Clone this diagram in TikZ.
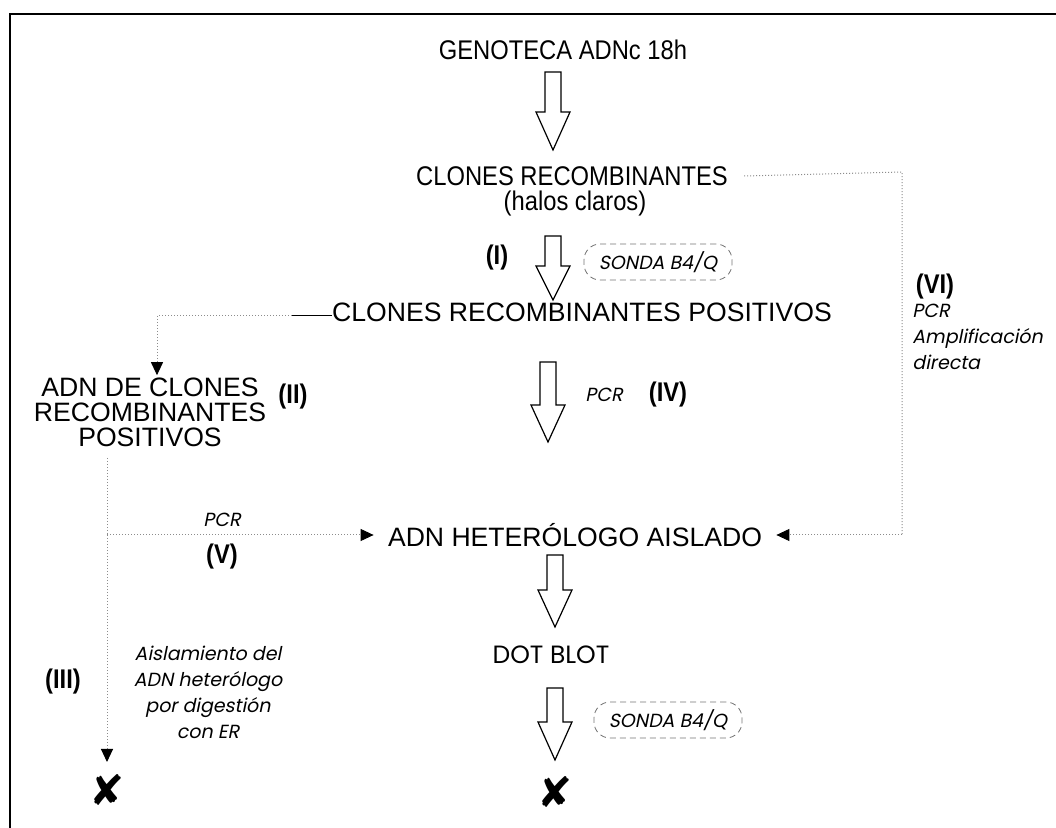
\documentclass[tikz,border=0pt]{standalone}
\usepackage{fontspec}
\setmainfont{Liberation Sans}
\newfontfamily\narrowf[FakeStretch=0.88]{Liberation Sans}
\newfontfamily\geof{Poppins}
\newfontfamily\geoit[FakeSlant=0.2]{Poppins}
\newfontfamily\symf{DejaVu Sans}
\usetikzlibrary{arrows.meta}
\tikzset{
  head/.style={font=\fontsize{13.3}{12.5}\selectfont, inner sep=0pt, align=center},
  nhead/.style={font=\narrowf\fontsize{13.5}{14}\selectfont, inner sep=0pt, align=center},
  num/.style={font=\narrowf\bfseries\fontsize{13.5}{14}\selectfont, inner sep=0pt},
  lab/.style={font=\geoit\fontsize{9.5}{13}\selectfont, inner sep=0pt, align=center},
  probe/.style={font=\geoit\fontsize{9.5}{10}\selectfont, draw=black!55, densely dashed, line width=0.4pt, rounded corners=8pt, minimum width=74pt, minimum height=18pt, inner sep=0pt},
  geo/.style={font=\geof\fontsize{12.5}{14}\selectfont, inner sep=0pt},
  faint/.style={draw=black!45, densely dotted, line width=0.5pt},
  tipst/.style={-{Triangle[length=6.5pt,width=6pt,color=black]}},
  block/.style={draw=black, line width=0.6pt, fill=white, line join=miter},
  cross/.style={font=\symf\fontsize{21}{21}\selectfont, inner sep=0pt}
}
\newcommand{\blockarr}[5]{% name, x, top, base, tip
  \draw[block] (#2-8,#3) -- (#2+8,#3) -- (#2+8,#4) -- (#2+17,#4) -- (#2,#5)
    -- (#2-17,#4) -- (#2-8,#4) -- cycle;
  \coordinate (#1) at (#2,#5);}
\begin{document}
\begin{tikzpicture}[x=0.5pt,y=-0.5pt]
\useasboundingbox (0,0) rectangle (1056,828);
% frame
\draw[line width=0.8pt] (9,14) -- (1056,14);
\draw[line width=1.2pt] (10,14) -- (10,828);

% main column
\node[nhead] (gen) at (563,50) {GENOTECA ADNc 18h};
\blockarr{a1}{553}{72}{112}{150}
\node[nhead] (cr) at (572,176) {CLONES RECOMBINANTES};
\node[nhead] (halos) at (575,204) {(halos claros)};
\blockarr{a2}{553}{236}{266}{300}
\node[num] (n1) at (497,258) {(I)};
\node[probe] (s1) at (658,262) {SONDA B4/Q};
\node[head] (crp) at (582,312) {CLONES RECOMBINANTES POSITIVOS};
\blockarr{a3}{548}{362}{405}{442}
\node[lab] (pcr4) at (604,395) {PCR};
\node[num] (n4) at (668,395) {(IV)};
\node[head] (het) at (575,535) {ADN HETERÓLOGO AISLADO};
\blockarr{a4}{555}{555}{590}{627}
\node[geo] (dot) at (551,655) {DOT BLOT};
\blockarr{a5}{555}{688}{722}{760}
\node[probe] (s2) at (668,720) {SONDA B4/Q};
\node[cross] (x2) at (555,792) {✘};

% left branch
\node[head] (adn) at (150,412) {ADN DE CLONES\\RECOMBINANTES\\POSITIVOS};
\node[num] (n2) at (293,397) {(II)};
\coordinate (lt) at (157,316);
\draw[line width=0.5pt] ([yshift=-2pt]crp.west) -- ++(-20pt,0) coordinate (ls);
\draw[faint] (ls) -- (lt);
\draw[faint, tipst] (lt) -- ([yshift=1pt]adn.north -| lt);
\coordinate (lv) at (107,458);
\coordinate (lm) at (107,535);
\draw[faint] (lv) -- (lm);
\draw[faint, tipst] (lm) -- ([xshift=-7pt]het.west);
\node[lab] (pcr5) at (222,520) {PCR};
\node[num] (n5) at (222,557) {(V)};
\draw[faint, tipst] (lm) -- (107,762);
\node[cross] (x1) at (107,790) {✘};
\node[num] (n3) at (63,682) {(III)};
\node[lab] (ais) at (208,692) {Aislamiento del\\ADN heterólogo\\por digestión\\con ER};

% right branch
\coordinate (rt) at (902,172);
\coordinate (rb) at (902,535);
\draw[faint] ([xshift=8pt]cr.east) -- (rt) -- (rb);
\draw[faint, tipst] (rb) -- ([xshift=7pt]het.east);
\node[num] (n6) at (935,287) {(VI)};
\node[lab, anchor=west, align=left] (pcr6) at (912,337) {PCR\\Amplificación\\directa};
\end{tikzpicture}
\end{document}
